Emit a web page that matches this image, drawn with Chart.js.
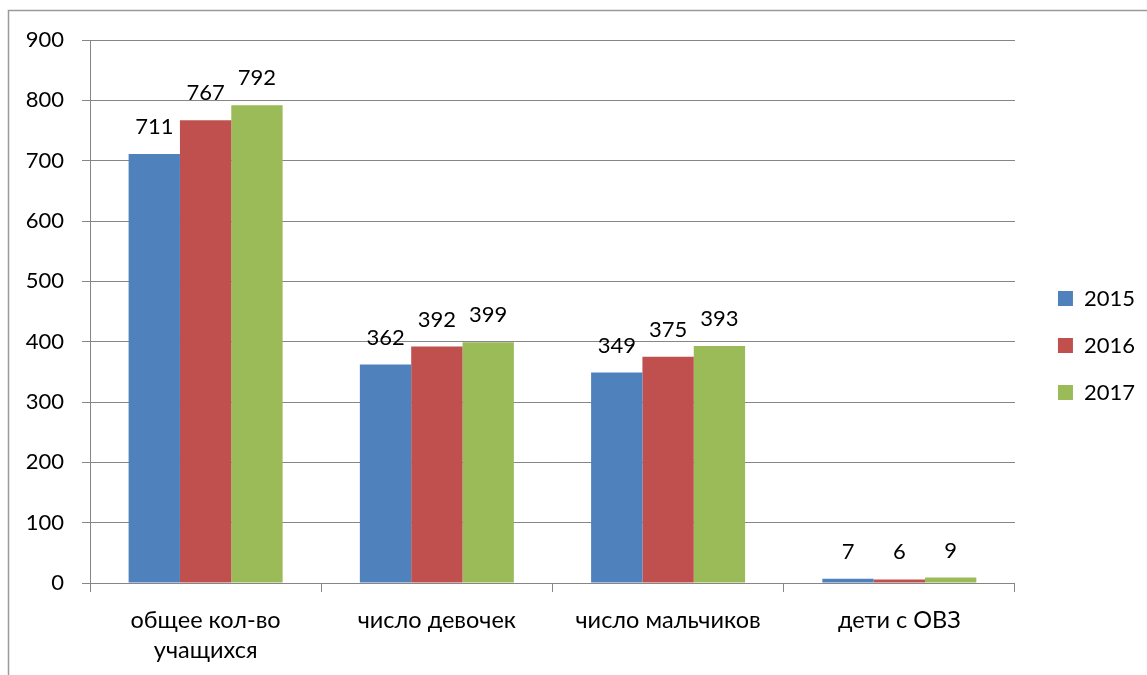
<!DOCTYPE html>
<html>
<head>
<meta charset="utf-8">
<script src="https://cdn.jsdelivr.net/npm/chart.js@4/dist/chart.umd.min.js"></script>
<style>
  html, body { margin: 0; padding: 0; background: #ffffff; }
  #wrap { width: 1147px; height: 675px; position: relative; }
</style>
</head>
<body>
<div id="wrap"><canvas id="c" width="1147" height="675"></canvas></div>
<script>
const categories = [['общее кол-во', 'учащихся'], 'число девочек', 'число мальчиков', 'дети с ОВЗ'];
const seriesNames = ['2015', '2016', '2017'];
const values2015 = [711, 362, 349, 7];
const values2016 = [767, 392, 375, 6];
const values2017 = [792, 399, 393, 9];
const yTicks = [0, 100, 200, 300, 400, 500, 600, 700, 800, 900];

const colors = ['#4F81BD', '#C0504D', '#9BBB59'];
const FONT = 'Lato, Carlito, Calibri, "Open Sans", sans-serif';
const GRID = '#868686';

const frame = {
  id: 'frame',
  beforeDraw(chart) {
    const ctx = chart.ctx;
    ctx.save();
    ctx.fillStyle = '#ffffff';
    ctx.fillRect(0, 0, chart.width, chart.height);
    ctx.strokeStyle = '#9a9a9a';
    ctx.lineWidth = 1.5;
    ctx.beginPath();
    ctx.moveTo(8.5, chart.height);
    ctx.lineTo(8.5, 10.5);
    ctx.lineTo(chart.width, 10.5);
    ctx.stroke();
    ctx.restore();
  }
};

const valueLabels = {
  id: 'valueLabels',
  afterDatasetsDraw(chart) {
    const ctx = chart.ctx;
    ctx.save();
    ctx.font = '22px ' + FONT;
    ctx.fillStyle = '#000000';
    ctx.textAlign = 'center';
    ctx.textBaseline = 'middle';
    chart.data.datasets.forEach((ds, i) => {
      const meta = chart.getDatasetMeta(i);
      meta.data.forEach((bar, j) => {
        ctx.fillText(String(ds.data[j]), bar.x, bar.y - 27);
      });
    });
    ctx.restore();
  }
};

new Chart(document.getElementById('c'), {
  type: 'bar',
  data: {
    labels: categories,
    datasets: [
      { label: seriesNames[0], data: values2015, backgroundColor: colors[0] },
      { label: seriesNames[1], data: values2016, backgroundColor: colors[1] },
      { label: seriesNames[2], data: values2017, backgroundColor: colors[2] }
    ]
  },
  options: {
    responsive: false,
    devicePixelRatio: 1,
    animation: false,
    layout: { padding: { top: 16, left: 10, right: 2, bottom: 0 } },
    datasets: { bar: { categoryPercentage: 0.666, barPercentage: 1.0, borderWidth: 0 } },
    plugins: {
      tooltip: { enabled: false },
      legend: {
        position: 'right',
        align: 'center',
        labels: {
          boxWidth: 15,
          boxHeight: 15,
          padding: 25,
          color: '#000000',
          font: { family: FONT, size: 22 }
        }
      }
    },
    scales: {
      x: {
        grid: { display: true, drawOnChartArea: false, drawTicks: true, tickLength: 9, color: GRID, offset: true },
        border: { display: true, color: GRID, width: 1 },
        ticks: { color: '#000000', font: { family: FONT, size: 23.5, lineHeight: 30 / 23.5 }, padding: 13, maxRotation: 0, autoSkip: false },
        afterFit(s) { s.height = 92; }
      },
      xTop: {
        type: 'category',
        position: 'top',
        display: true,
        grid: { display: false },
        border: { display: false },
        ticks: { display: false },
        afterFit(s) { s.height = 24; }
      },
      y: {
        min: 0,
        max: 900,
        afterBuildTicks(s) { s.ticks = yTicks.map(v => ({ value: v })); },
        grid: { color: GRID, lineWidth: 1, tickLength: 8, drawTicks: true },
        border: { display: true, color: GRID, width: 1 },
        ticks: { color: '#000000', font: { family: FONT, size: 22 }, padding: 18 },
        afterFit(s) { s.width = 80; }
      },
      y2: {
        position: 'right',
        display: true,
        grid: { display: false },
        border: { display: false },
        ticks: { display: false },
        afterFit(s) { s.width = 18; }
      }
    }
  },
  plugins: [frame, valueLabels]
});
</script>
</body>
</html>
